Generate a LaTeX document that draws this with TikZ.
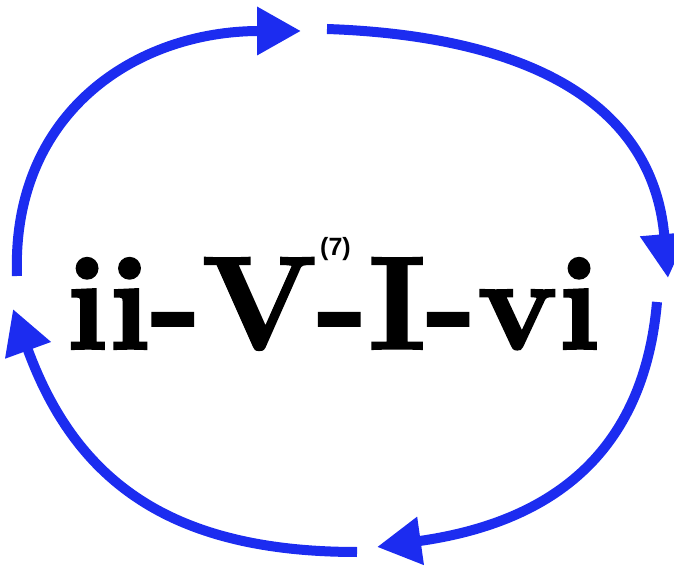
\documentclass[tikz,border=0pt]{standalone}
\usepackage{fontspec}
\usepackage{tikz}
\usetikzlibrary{positioning,arrows.meta}
\newfontfamily\supfont{Liberation Sans}
\newfontfamily\chordfont{lmroman10-bold.otf}[FakeBold=1.6]
\definecolor{loopblue}{HTML}{1C2CF0}
\newcommand{\sevenths}{\makebox[0pt][l]{\hspace{3pt}\raisebox{93pt}{\fontsize{25}{25}\selectfont\supfont\bfseries(7)}}}
\tikzset{
  flow/.style={-{Triangle[length=44pt,width=46pt]}, line width=10pt, draw=loopblue, looseness=1.12},
  chord/.style={anchor=base, inner sep=0pt, font=\fontsize{133}{133}\selectfont\chordfont}
}
\begin{document}
\begin{tikzpicture}[x=1pt,y=1pt]
\useasboundingbox (0,0) rectangle (674,570);

\node[chord] (prog) at (333,221) {ii-V\sevenths-I-vi};

\coordinate (lftTop) at (17,294);
\coordinate (topL) at (301,539);
\coordinate (topR) at (327,541);
\coordinate (rgtTop) at (668,292);
\coordinate (rgtBot) at (657,268);
\coordinate (botR) at (377,23);
\coordinate (botL) at (357,18);
\coordinate (lftBot) at (13,261);

\draw[flow] (lftTop) to[out=92,in=180] (topL);
\draw[flow] (topR) to[out=-2,in=95] (rgtTop);
\draw[flow] (rgtBot) to[out=-95,in=8] (botR);
\draw[flow] (botL) to[out=180,in=-70] (lftBot);
\end{tikzpicture}
\end{document}
